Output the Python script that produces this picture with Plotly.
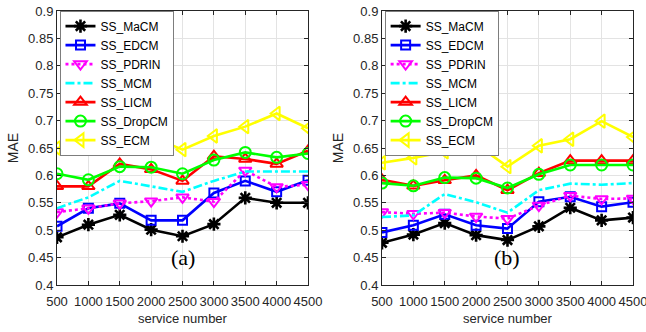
import plotly.graph_objects as go
from plotly.subplots import make_subplots

service_numbers = [500, 1000, 1500, 2000, 2500, 3000, 3500, 4000, 4500]
tick_labels = ["500", "1000", "1500", "2000", "2500", "3000", "3500", "4000", "4500"]
series_names = ["SS_MaCM", "SS_EDCM", "SS_PDRIN", "SS_MCM", "SS_LICM", "SS_DropCM", "SS_ECM"]

# Panel (a)
a_macm = [0.487, 0.510, 0.528, 0.501, 0.489, 0.511, 0.559, 0.550, 0.550]
a_edcm = [0.507, 0.540, 0.549, 0.518, 0.518, 0.568, 0.590, 0.570, 0.591]
a_pdrin = [0.533, 0.540, 0.549, 0.553, 0.560, 0.552, 0.609, 0.579, 0.583]
a_mcm = [0.540, 0.560, 0.590, 0.580, 0.570, 0.590, 0.607, 0.607, 0.607]
a_licm = [0.580, 0.580, 0.621, 0.611, 0.590, 0.635, 0.630, 0.621, 0.645]
a_dropcm = [0.603, 0.592, 0.616, 0.615, 0.603, 0.628, 0.642, 0.633, 0.640]
a_ecm = [0.650, 0.653, 0.673, 0.671, 0.647, 0.672, 0.689, 0.713, 0.686]

# Panel (b)
b_macm = [0.477, 0.492, 0.513, 0.491, 0.482, 0.507, 0.541, 0.518, 0.523]
b_edcm = [0.496, 0.509, 0.529, 0.509, 0.503, 0.552, 0.561, 0.543, 0.551]
b_pdrin = [0.533, 0.530, 0.532, 0.525, 0.521, 0.545, 0.563, 0.557, 0.558]
b_mcm = [0.524, 0.527, 0.566, 0.551, 0.532, 0.573, 0.585, 0.583, 0.586]
b_licm = [0.592, 0.581, 0.591, 0.600, 0.573, 0.604, 0.627, 0.627, 0.627]
b_dropcm = [0.586, 0.581, 0.596, 0.595, 0.577, 0.602, 0.619, 0.619, 0.619]
b_ecm = [0.623, 0.632, 0.643, 0.657, 0.616, 0.654, 0.666, 0.699, 0.670]

panel_labels = ["(a)", "(b)"]

styles = [
    dict(color="#000000", symbol="asterisk-open", dash="solid", marker=True, size=11, lw=2.6),
    dict(color="#0000FF", symbol="square-open", dash="solid", marker=True, size=9, lw=2),
    dict(color="#FF00FF", symbol="triangle-down-open", dash="dot", marker=True, size=11, lw=2),
    dict(color="#00FFFF", symbol=None, dash="dashdot", marker=False, size=0, lw=0),
    dict(color="#FF0000", symbol="triangle-up-open", dash="solid", marker=True, size=11, lw=2),
    dict(color="#00FF00", symbol="circle-open", dash="solid", marker=True, size=11, lw=2),
    dict(color="#FFFF00", symbol="triangle-left-open", dash="solid", marker=True, size=12, lw=2),
]

panels = [
    [a_macm, a_edcm, a_pdrin, a_mcm, a_licm, a_dropcm, a_ecm],
    [b_macm, b_edcm, b_pdrin, b_mcm, b_licm, b_dropcm, b_ecm],
]

fig = make_subplots(rows=1, cols=2, horizontal_spacing=0.1284)

FONT = "Liberation Sans, Arial, sans-serif"
TXT = "#262626"

for p, series in enumerate(panels):
    legend_id = "legend" if p == 0 else "legend2"
    for name, vals, st in zip(series_names, series, styles):
        mode = "lines+markers" if st["marker"] else "lines"
        kw = dict(
            x=service_numbers, y=vals, name=name, mode=mode,
            line=dict(color=st["color"], width=2.6, dash=st["dash"]),
            legend=legend_id, showlegend=True,
        )
        if st["marker"]:
            kw["marker"] = dict(symbol=st["symbol"], size=st["size"], color=st["color"],
                                line=dict(color=st["color"], width=st["lw"]))
        fig.add_trace(go.Scatter(**kw), row=1, col=p + 1)

axis_common = dict(
    showline=True, linecolor=TXT, linewidth=1, mirror="ticks",
    ticks="inside", ticklen=4, tickcolor=TXT,
    showgrid=True, gridcolor="#e3e3e3", gridwidth=1,
    zeroline=False, tickfont=dict(family=FONT, size=13, color=TXT),
    automargin=False, ticklabeloverflow="allow",
)

for c in (1, 2):
    fig.update_xaxes(range=[500, 4500], tickmode="array", tickvals=service_numbers,
                     ticktext=tick_labels, tickangle=0, ticklabelstandoff=4,
                     title=dict(text="service number", font=dict(family=FONT, size=13, color=TXT), standoff=6),
                     row=1, col=c, **axis_common)
    fig.update_yaxes(range=[0.4, 0.9], tickmode="array",
                     tickvals=[0.4, 0.45, 0.5, 0.55, 0.6, 0.65, 0.7, 0.75, 0.8, 0.85, 0.9],
                     ticktext=["0.4", "0.45", "0.5", "0.55", "0.6", "0.65", "0.7", "0.75", "0.8", "0.85", "0.9"],
                     title=dict(text="MAE", font=dict(family=FONT, size=14, color=TXT), standoff=6),
                     row=1, col=c, **axis_common)

for i, lab in enumerate(panel_labels):
    xref = "x" if i == 0 else "x2"
    yref = "y" if i == 0 else "y2"
    fig.add_annotation(x=2500, y=0.451, xref=xref, yref=yref, text=lab, showarrow=False,
                       font=dict(family="Liberation Serif, Times New Roman, serif", size=22, color="#000000"))

legend_common = dict(
    bgcolor="white", bordercolor="#262626", borderwidth=0.6,
    font=dict(family=FONT, size=12, color="#000000"),
    yanchor="top", xanchor="left", y=1.0, tracegroupgap=0, itemwidth=30,
)

fig.update_layout(
    width=646, height=332,
    margin=dict(l=57, r=13, t=11, b=47, autoexpand=False),
    plot_bgcolor="white", paper_bgcolor="white",
    legend=dict(x=0.005, **legend_common),
    legend2=dict(x=0.5695, **legend_common),
)

fig.write_html("out.html", config={"displayModeBar": False},
               post_script="document.body.style.margin='0';document.body.style.overflow='hidden';")
